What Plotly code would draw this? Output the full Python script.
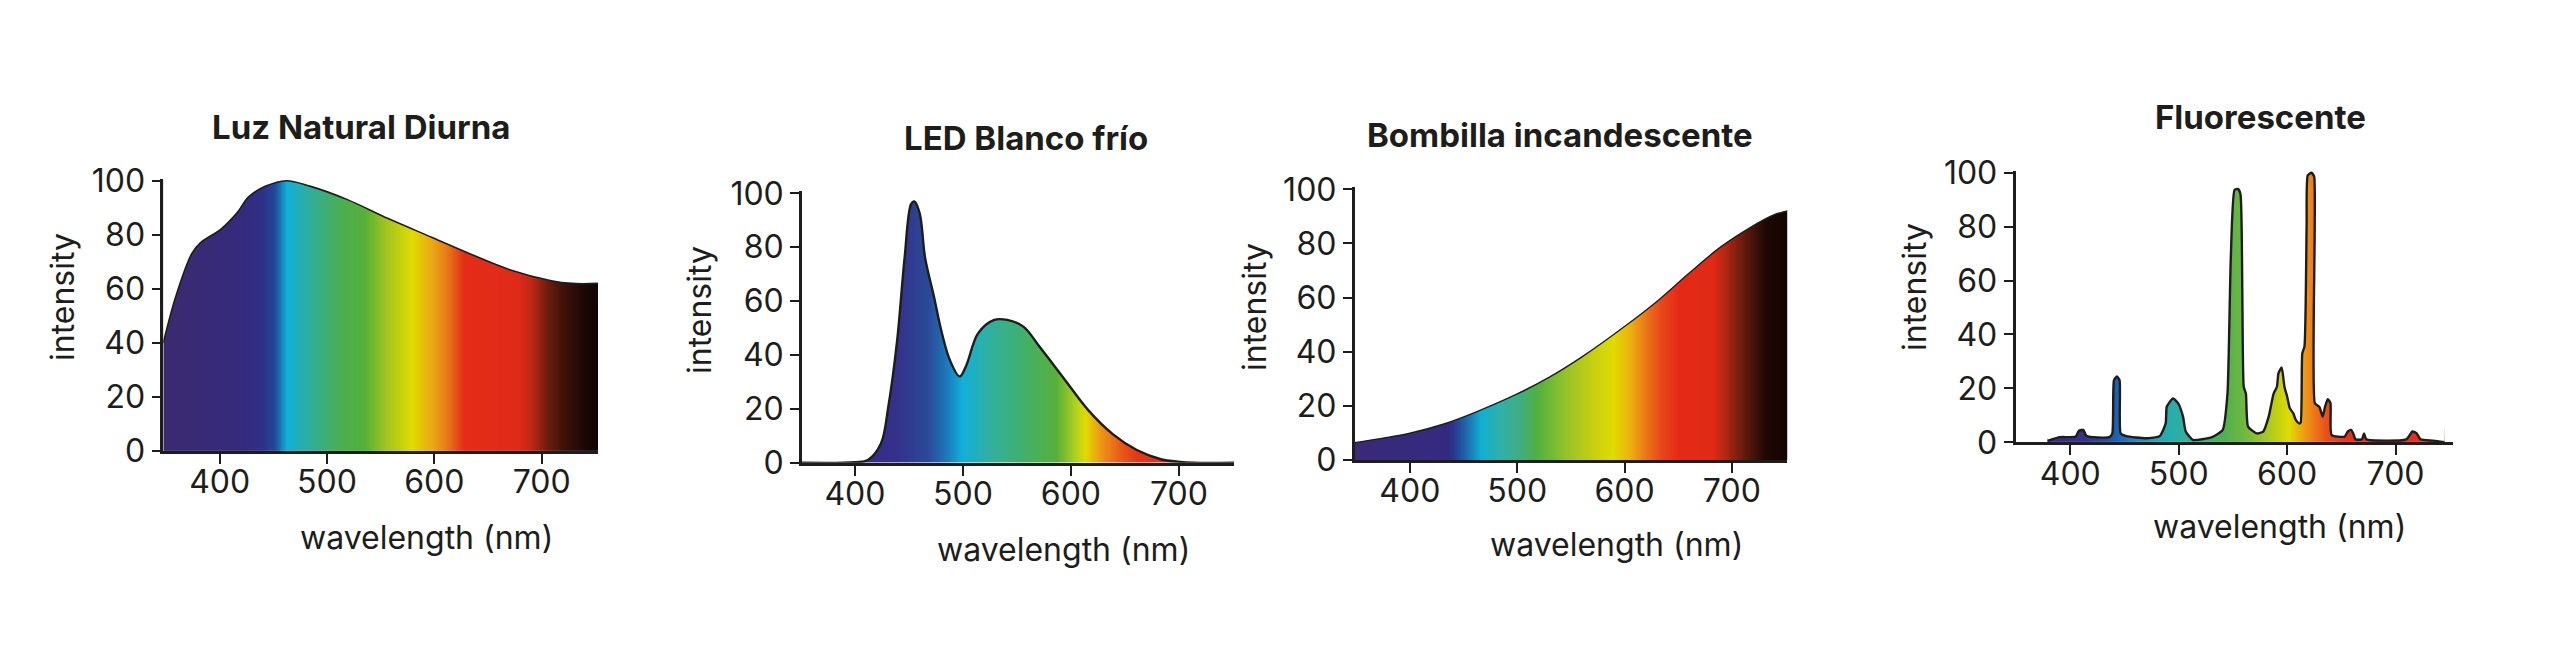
import numpy as np
import plotly.graph_objects as go

# ---------------- data ----------------
titles = ["Luz Natural Diurna", "LED Blanco frío", "Bombilla incandescente", "Fluorescente"]
x_title = "wavelength (nm)"
y_title = "intensity"
x_ticks = [400, 500, 600, 700]
y_ticks = [0, 20, 40, 60, 80, 100]

wl_daylight = [347.5, 359, 374, 382, 401, 416, 427, 443, 462, 484, 519, 557, 598, 633, 671, 709, 728, 752.5]
int_daylight = [40, 57, 73, 77, 82, 88, 94, 98, 100, 98, 93, 86, 79, 73, 67, 63, 62, 62]

wl_led = [351, 400, 412, 424, 431, 439, 446, 452, 455, 460, 465, 473, 480, 488, 497, 503, 514, 529, 541,
          556, 571, 594, 616, 639, 661, 684, 699, 714, 751]
int_led = [0, 0.2, 1, 7, 21, 45, 76, 96, 97, 92.5, 76, 62, 49, 38, 32, 36, 48, 53, 53,
           50.5, 43, 31, 19.5, 10.5, 4.7, 1.2, 0.4, 0, 0]

wl_incand = [348.6, 374, 400, 431, 462, 500, 530, 560, 600, 633, 659, 690, 716, 739, 751.7]
int_incand = [6.4, 8, 9.9, 13.2, 17.8, 24.4, 30.6, 38, 49.3, 59.5, 68.6, 78.8, 85.6, 90.5, 92]

wl_fluo = [379, 390, 405, 408, 412, 415, 436, 438.8, 440.3, 443, 445.5, 446.5, 451.7, 470, 482.5, 488, 489,
           494.8, 499.4, 504, 506.5, 513, 530.7, 540.6, 545, 548, 551.5, 554.7, 557, 558.7, 560, 562, 564,
           572, 578, 583, 587.5, 590.6, 592, 595, 597.5, 600, 602.5, 605.6, 608, 611, 612.5, 614, 616, 618,
           619, 622.5, 625, 625.6, 629.7, 632.8, 635, 637.5, 640, 641, 653, 656, 659, 661, 663, 669, 671,
           673, 710, 715.6, 719.5, 723, 735, 745]
int_fluo = [0.5, 1.9, 2.1, 4.3, 4.6, 2.3, 1.9, 3.3, 23, 24.4, 23, 3.3, 2.3, 1.5, 2.3, 7, 13.2,
            16.3, 14.5, 9.5, 4, 0.9, 1.9, 4.6, 18, 67.6, 93.6, 94, 92, 55, 20.6, 18, 5.8,
            3.3, 4, 9.5, 18, 20.6, 25.6, 27.8, 20.6, 17, 12.6, 10.8, 8.3, 7, 7.3, 33, 35.5, 80,
            99, 100, 98.5, 14.5, 13.2, 9.5, 13.2, 16, 14.5, 2.7, 2.1, 4, 4.6, 3.3, 1.1, 1.1, 3.3,
            1.1, 1.1, 4, 3.3, 1.1, 0.6, 0]

series = [(wl_daylight, int_daylight), (wl_led, int_led), (wl_incand, int_incand), (wl_fluo, int_fluo)]
x_ranges = [[347.5, 752.5], [351, 751], [348.6, 751.7], [349.5, 753]]

# ---------------- style ----------------
OFF = 8                      # default page margin of the html body
W, H = 2560 - 2 * OFF, 651 - 2 * OFF
INK = "#1d1d1b"
FONT = "Inter"
FS = 32
FS_TITLE = 33
# spectral colour stops (wavelength, colour) per panel
spectra = [
    [(347.5, "#3b2a70"), (420, "#352a7c"), (440, "#2e3288"), (451, "#22489a"), (462, "#10b0d8"),
     (479, "#2aaea8"), (513, "#4cae50"), (535, "#56b038"), (554, "#a0c420"), (579, "#e0dc00"),
     (597, "#eca818"), (610, "#e88018"), (628, "#e42c18"), (678, "#e02a18"), (690, "#c02816"),
     (706, "#6a1c0e"), (721, "#3a1208"), (746, "#140404"), (752.5, "#140404")],
    [(351, "#38287a"), (437, "#35308a"), (468, "#2a4a98"), (487, "#1a80c0"), (499, "#10b0d8"),
     (524, "#30b0a0"), (552, "#40b070"), (586, "#56b03a"), (604, "#b0d020"), (613, "#e0dc00"),
     (629, "#ee9018"), (644, "#e86018"), (660, "#e43818"), (700, "#e02a18"), (751, "#d82818")],
    [(348.6, "#3a2a78"), (435, "#332a80"), (441, "#2a3a90"), (453, "#1e6cb0"), (466, "#10b0d0"),
     (484, "#30b0a8"), (503, "#40ad80"), (518, "#50b040"), (546, "#98c428"), (571, "#c8d010"),
     (589, "#e0dc00"), (605, "#eeb010"), (617, "#ec8018"), (633, "#e84a1a"), (651, "#e42a16"),
     (682, "#e02a16"), (694, "#b02814"), (713, "#5a1a0c"), (731, "#200804"), (751.7, "#120402")],
    [(349.5, "#3a2a80"), (411, "#38308a"), (430, "#2a4aa0"), (442, "#2060b0"), (460, "#2088c0"),
     (479, "#20a8b8"), (504, "#30b0a0"), (541, "#50b050"), (560, "#70b840"), (581, "#a8c820"),
     (602, "#e0dc00"), (618, "#f09018"), (636, "#e85018"), (658, "#e43020"), (726, "#e43020"),
     (753, "#c02818")],
]
# plot areas in page pixels: (left, right, y of 0, y of 100)
boxes = [(163.3, 598, 451, 180.7), (802, 1234, 462.7, 193.3), (1354.7, 1787.3, 460, 189.3),
         (2015.5, 2453, 442.3, 172.7)]
title_pos = [(361, 126.7), (1025.7, 138.3), (1559.6, 135), (2260, 117)]
ytitle_pos = [(62, 297), (699, 310), (1254, 307), (1914, 287)]
xtitle_pos = [(426, 537), (1063, 549), (1616, 544), (2279, 526)]
line_w = [1.6, 2.4, 1.4, 2.4]
smooth = [1.0, 1.0, 1.0, 0.5]
YTOP = 100.8


def px_x(p):
    return (p - OFF) / W


def px_y(p):
    return 1 - (p - OFF) / H


fig = go.Figure()
layout = dict(width=W, height=H, margin=dict(l=0, r=0, t=0, b=0, autoexpand=False), paper_bgcolor="white",
              plot_bgcolor="white", showlegend=False)
annotations = []

for i, ((wl, val), rng, spec, box) in enumerate(zip(series, x_ranges, spectra, boxes)):
    n = "" if i == 0 else str(i + 1)
    xa, ya = "x" + n, "y" + n
    left, right, y0, y100 = box
    k = (y0 - y100) / 100.0
    ytop_px = y0 - YTOP * k
    layout["xaxis" + n] = dict(
        domain=[px_x(left), px_x(right)], range=rng, anchor=ya, showline=True, linecolor=INK, linewidth=2.6,
        ticks="outside", ticklen=10, tickwidth=2.2, tickcolor=INK, tickvals=x_ticks, ticklabelstandoff=-9,
        tickfont=dict(family=FONT, size=FS, color=INK), showgrid=False, zeroline=False, fixedrange=True,
        automargin=False)
    layout["yaxis" + n] = dict(
        domain=[px_y(y0), px_y(ytop_px)], range=[0, YTOP], anchor=xa, showline=True, linecolor=INK,
        linewidth=2.6, ticks="outside", ticklen=9, tickwidth=2.2, tickcolor=INK, tickvals=y_ticks,
        tickfont=dict(family=FONT, size=FS, color=INK), showgrid=False, zeroline=False, fixedrange=True,
        automargin=False)

    # spectral colour raster under the curve (kept below the plot top so it never bleeds at the edge)
    lo, hi = spec[0][0], spec[-1][0]
    cscale = [[(w - lo) / (hi - lo), c] for w, c in spec]
    edges = np.linspace(wl[0], wl[-1], 501)
    mids = (edges[:-1] + edges[1:]) / 2
    hmax = max(val) + 0.3
    fig.add_trace(go.Heatmap(x=edges, y=[0, hmax / 2, hmax], z=[mids, mids], zmin=lo, zmax=hi,
                             colorscale=cscale, showscale=False, zsmooth="best", hoverinfo="skip",
                             xaxis=xa, yaxis=ya))
    # white mask above the curve
    fig.add_trace(go.Scatter(x=[rng[0] - 5, rng[1] + 5], y=[YTOP + 30, YTOP + 30], mode="lines",
                             line=dict(width=0), hoverinfo="skip", xaxis=xa, yaxis=ya))
    fig.add_trace(go.Scatter(x=wl, y=val, mode="lines", fill="tonexty", fillcolor="white",
                             line=dict(color=INK, width=line_w[i], shape="spline", smoothing=smooth[i]),
                             xaxis=xa, yaxis=ya))

    annotations.append(dict(text="<b>" + titles[i] + "</b>", x=px_x(title_pos[i][0]), y=px_y(title_pos[i][1]),
                            xref="paper", yref="paper", xanchor="center", yanchor="middle", showarrow=False,
                            font=dict(family=FONT, size=FS_TITLE, color=INK)))
    annotations.append(dict(text=y_title, x=px_x(ytitle_pos[i][0]), y=px_y(ytitle_pos[i][1]), textangle=-90,
                            xref="paper", yref="paper", xanchor="center", yanchor="middle", showarrow=False,
                            font=dict(family=FONT, size=FS, color=INK)))
    annotations.append(dict(text=x_title, x=px_x(xtitle_pos[i][0]), y=px_y(xtitle_pos[i][1]),
                            xref="paper", yref="paper", xanchor="center", yanchor="middle", showarrow=False,
                            font=dict(family=FONT, size=FS, color=INK)))

layout["annotations"] = annotations
fig.update_layout(**layout)
fig.write_html("out.html")
